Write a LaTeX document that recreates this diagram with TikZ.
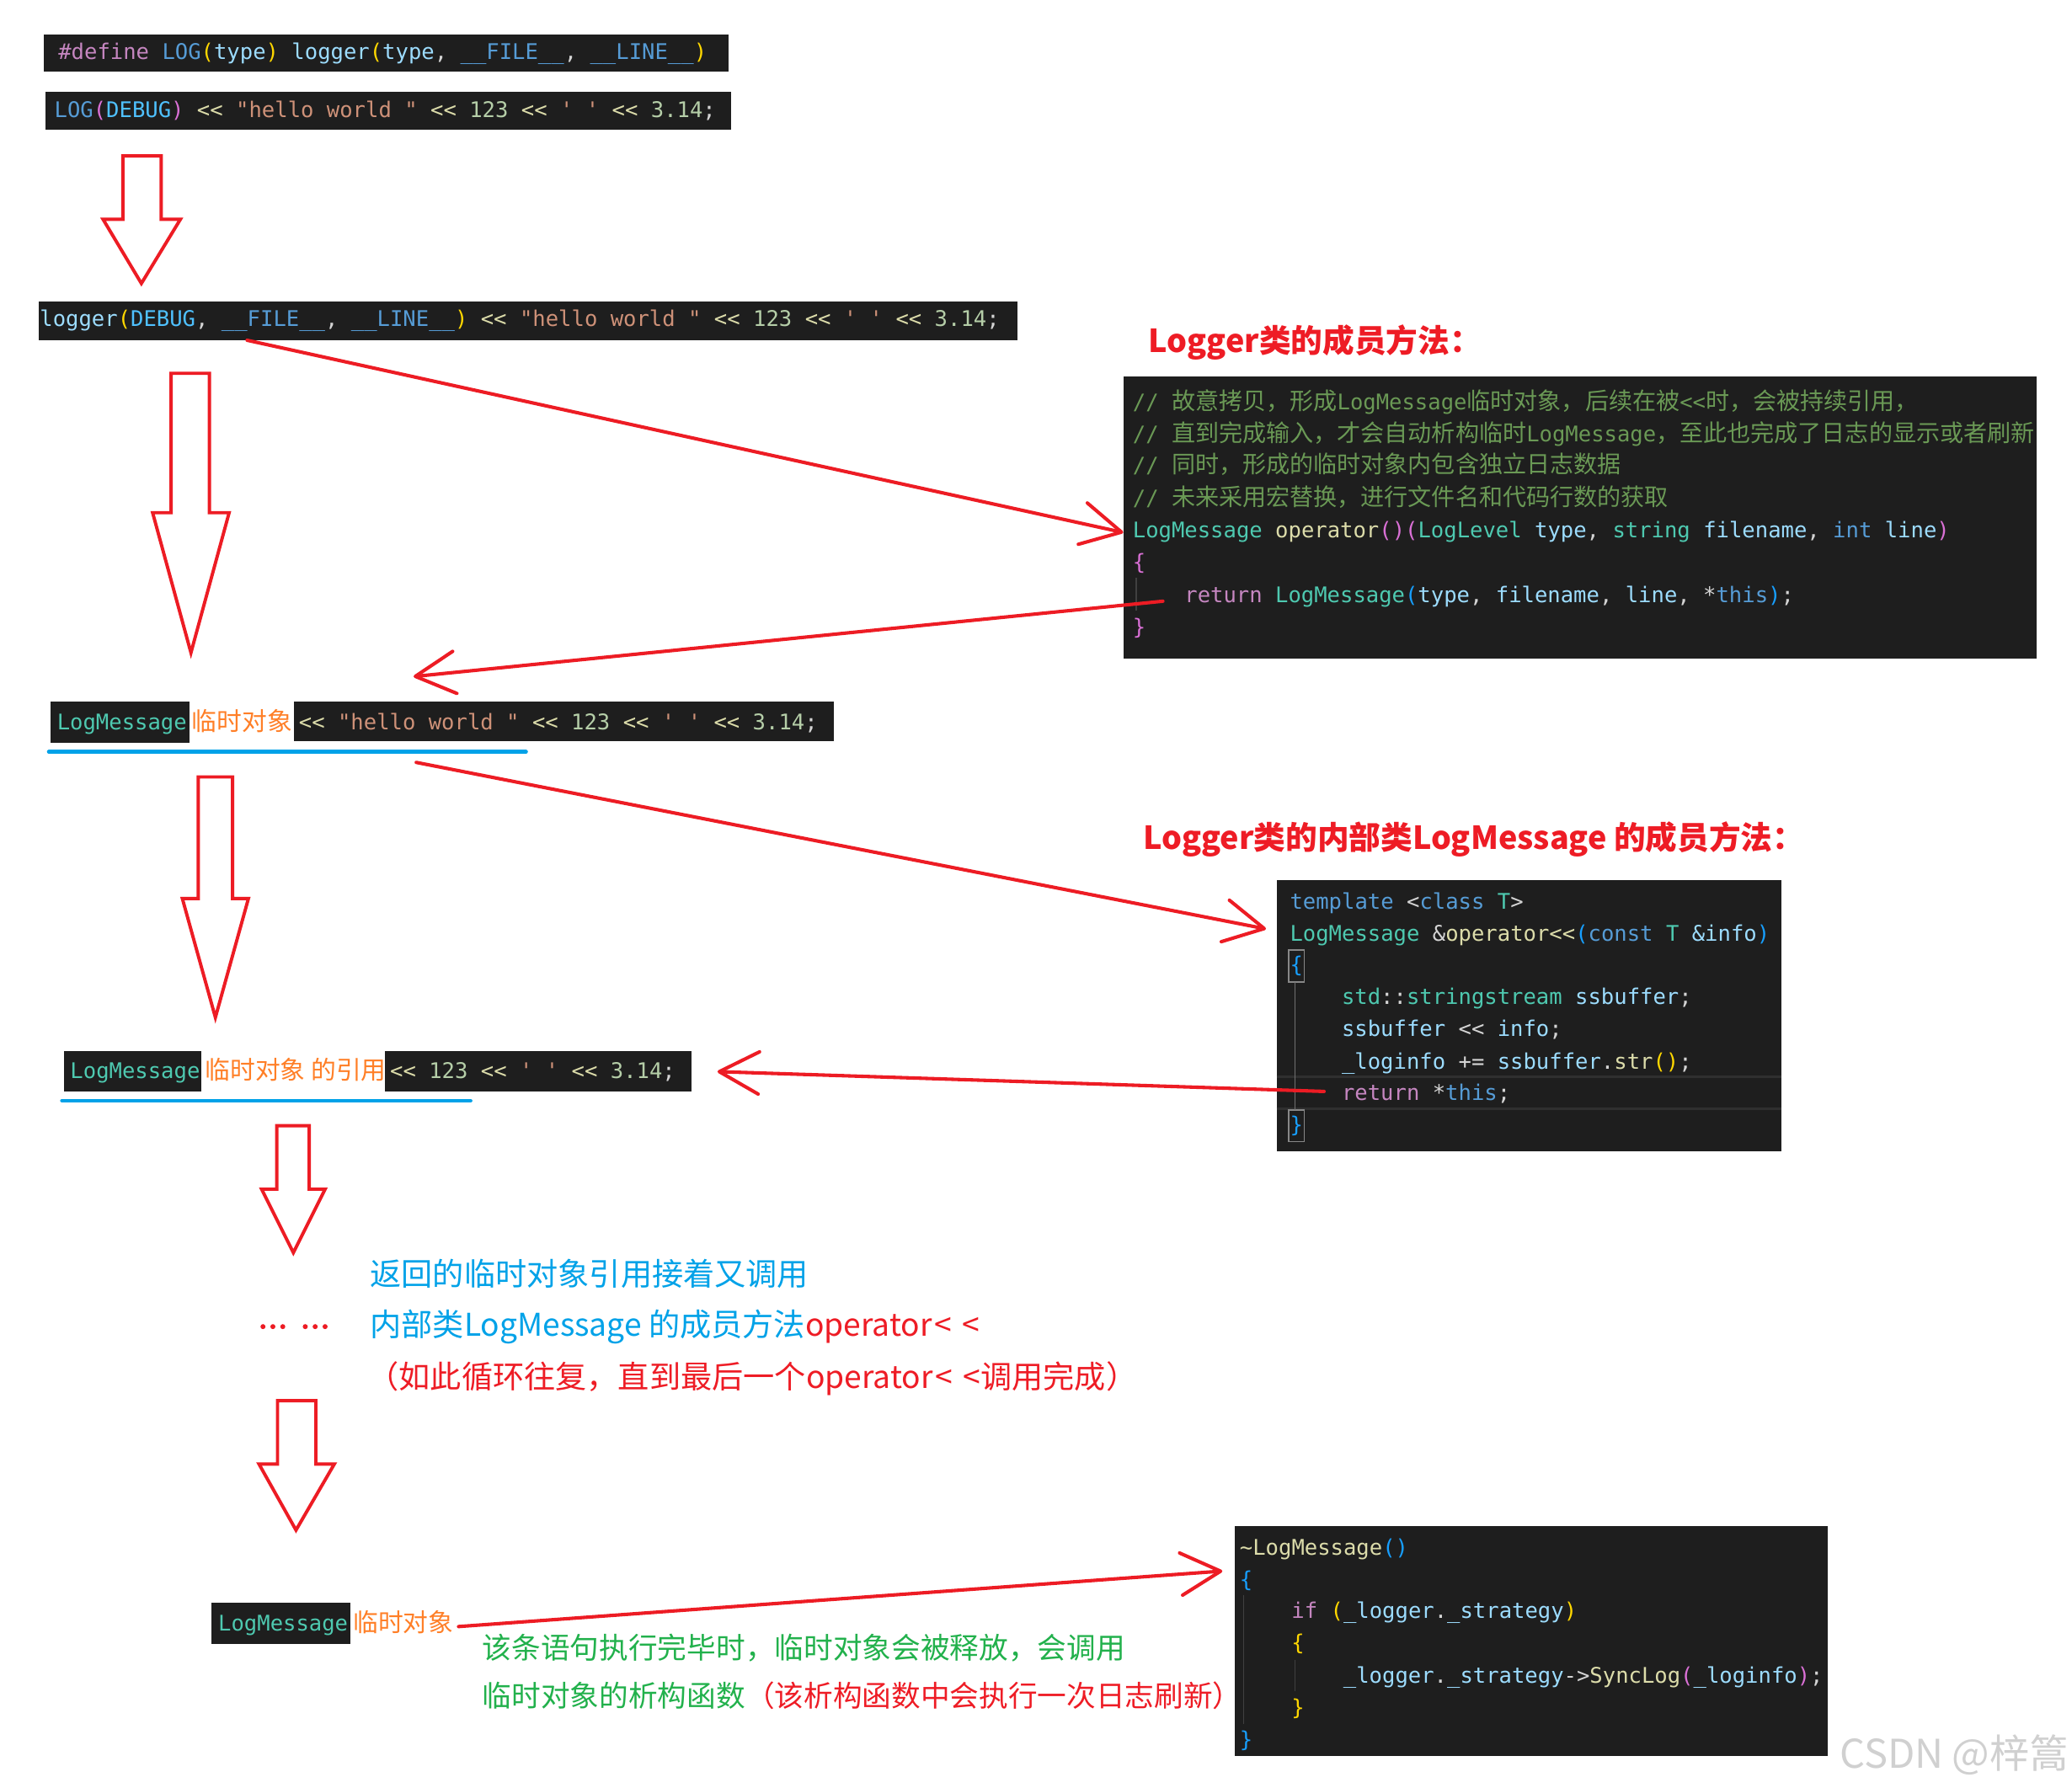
\documentclass[tikz,border=0pt]{standalone}
\usepackage{fontspec}
\setmainfont{DejaVu Sans}
\setmonofont{DejaVu Sans Mono}
\newfontfamily\cjk{Noto Sans CJK SC}
\usetikzlibrary{arrows.meta}

\definecolor{codebg}{HTML}{1E1E1E}
\definecolor{pred}{HTML}{ED1C24}
\definecolor{tred}{HTML}{EE1C25}
\definecolor{tblue}{HTML}{00A2E8}
\definecolor{torange}{HTML}{FF7F27}
\definecolor{tgreen}{HTML}{22B14C}
\definecolor{ckw}{HTML}{569CD6}
\definecolor{cctl}{HTML}{C586C0}
\definecolor{ctype}{HTML}{4EC9B0}
\definecolor{cfn}{HTML}{DCDCAA}
\definecolor{cvar}{HTML}{9CDCFE}
\definecolor{cstr}{HTML}{CE9178}
\definecolor{cnum}{HTML}{B5CEA8}
\definecolor{cop}{HTML}{D4D4D4}
\definecolor{cenum}{HTML}{4FC1FF}
\definecolor{cyel}{HTML}{FFD700}
\definecolor{cpk}{HTML}{DA70D6}
\definecolor{cbl}{HTML}{179FFF}
\definecolor{ccom}{HTML}{6A9955}
\definecolor{cguide}{HTML}{404040}
\definecolor{cguideact}{HTML}{707070}
\definecolor{ccur}{HTML}{2F2F2F}
\definecolor{cbrk}{HTML}{888888}
\definecolor{wmark}{HTML}{D0D0D0}

\newcommand\Ct[2]{\textcolor{#1}{#2}}
\newcommand\codefont{\ttfamily\fontsize{16.3}{24.3}\selectfont}
\newcommand\cmC[1]{{\cjk\fontsize{17.9}{24}\selectfont #1}}
\newcommand\tailA{\Ct{cfn}{<<} \Ct{cstr}{"hello world "} \Ct{cfn}{<<} \Ct{cnum}{123} \Ct{cfn}{<<} \Ct{cstr}{' '} \Ct{cfn}{<<} \Ct{cnum}{3.14}\Ct{cop}{;}}
\newcommand\tailB{\Ct{cfn}{<<} \Ct{cnum}{123} \Ct{cfn}{<<} \Ct{cstr}{' '} \Ct{cfn}{<<} \Ct{cnum}{3.14}\Ct{cop}{;}}

\begin{document}
\begin{tikzpicture}[x=1pt,y=-1pt,
  darkbox/.style={fill=codebg, draw=none, inner sep=0pt, anchor=north west},
  codeline/.style={anchor=base west, inner sep=0pt, font=\codefont, text=cop},
  blockarr/.style={draw=pred, line width=2.5pt, line join=miter},
  redarr/.style={draw=pred, line width=2.6pt, line cap=round, -{Straight Barb[length=30pt,width=32pt,round]}},
  uline/.style={draw=tblue, line width=3pt, line cap=round},
  guide/.style={draw=cguide, line width=1pt},
  actguide/.style={draw=cguideact, line width=1pt},
  curline/.style={draw=ccur, line width=2pt},
  brkbox/.style={draw=cbrk, line width=1.2pt},
  titletext/.style={anchor=base west, inner sep=0pt, font=\cjk\bfseries\fontsize{24}{28}\selectfont, text=tred},
  bluetext/.style={anchor=base west, inner sep=0pt, font=\cjk\fontsize{23.7}{28}\selectfont, text=tblue},
  greentext/.style={anchor=base west, inner sep=0pt, font=\cjk\fontsize{22.1}{26}\selectfont, text=tgreen},
  orangetext/.style={anchor=base west, inner sep=0pt, font=\cjk\fontsize{19}{22}\selectfont, text=torange}
]
\fill[white] (0,0) rectangle (1568,1353);
\useasboundingbox (0,0) rectangle (1568,1353);

% ---------- hollow block arrows ----------
\draw[blockarr] (93,118) -- (122,118) -- (122,166) -- (136.5,166) -- (107,214.5) -- (78,166) -- (93,166) -- cycle;
\draw[blockarr] (129.5,282.5) -- (158.5,282.5) -- (158.5,388) -- (173.4,388) -- (144.5,494) -- (115.5,388) -- (129.5,388) -- cycle;
\draw[blockarr] (150,588) -- (176,588) -- (176,680) -- (188,680) -- (163,770) -- (138,680) -- (150,680) -- cycle;
\draw[blockarr] (209.5,852) -- (234,852) -- (234,900) -- (246,900) -- (222,948) -- (198,900) -- (209.5,900) -- cycle;
\draw[blockarr] (210,1060) -- (239,1060) -- (239,1108) -- (253,1108) -- (224,1158) -- (196,1108) -- (210,1108) -- cycle;

% ---------- single-line code boxes ----------
\node[darkbox, minimum width=518pt, minimum height=28pt] (b1) at (33,26) {};
\node[codeline] (t1) at (44,45) {\Ct{cctl}{\#define} \Ct{ckw}{LOG}\Ct{cyel}{(}\Ct{cvar}{type}\Ct{cyel}{)} \Ct{cvar}{logger}\Ct{cyel}{(}\Ct{cvar}{type}\Ct{cop}{,} \Ct{ckw}{\_\_FILE\_\_}\Ct{cop}{,} \Ct{ckw}{\_\_LINE\_\_}\Ct{cyel}{)}};

\node[darkbox, minimum width=519pt, minimum height=29pt] (b2) at (34,69) {};
\node[codeline] (t2) at (41,89) {\Ct{ckw}{LOG}\Ct{cpk}{(}\Ct{cenum}{DEBUG}\Ct{cpk}{)} \tailA};

\node[darkbox, minimum width=741pt, minimum height=29pt] (b3) at (29,228) {};
\node[codeline] (t3) at (30,247) {\Ct{cvar}{logger}\Ct{cyel}{(}\Ct{cenum}{DEBUG}\Ct{cop}{,} \Ct{ckw}{\_\_FILE\_\_}\Ct{cop}{,} \Ct{ckw}{\_\_LINE\_\_}\Ct{cyel}{)} \tailA};

% LogMessage temporary object line
\node[darkbox, minimum width=105pt, minimum height=31pt] (b4a) at (38,531) {};
\node[codeline] (t4a) at (43,552) {\Ct{ctype}{LogMessage}};
\node[orangetext] (o1) at (145,553) {临时对象};
\node[darkbox, minimum width=409pt, minimum height=30pt] (b4b) at (222,531) {};
\node[codeline] (t4b) at (226,552) {\tailA};
\draw[uline] (37,569) -- (398,569);

% reference line
\node[darkbox, minimum width=104pt, minimum height=31pt] (b5a) at (48,795) {};
\node[codeline] (t5a) at (53,816) {\Ct{ctype}{LogMessage}};
\node[orangetext] (o2) at (155,817) {临时对象 的引用};
\node[darkbox, minimum width=232pt, minimum height=31pt] (b5b) at (291,795) {};
\node[codeline] (t5b) at (295,816) {\tailB};
\draw[uline] (47,833) -- (356,833);

% final temporary object
\node[darkbox, minimum width=105pt, minimum height=31pt] (b6) at (160,1213) {};
\node[codeline] (t6) at (165,1234) {\Ct{ctype}{LogMessage}};
\node[orangetext] (o3) at (267,1235) {临时对象};

% ---------- titles ----------
\node[titletext] (title1) at (869,267) {Logger类的成员方法：};
\node[titletext] (title2) at (865,643) {Logger类的内部类LogMessage 的成员方法：};

% ---------- code box 1 ----------
\node[darkbox, minimum width=691pt, minimum height=213pt] (cb1) at (850,285) {};
\draw[guide] (860,437) -- (860,462);
\node[codeline, text=ccom] (c1l1) at (857,310) {// \cmC{故意拷贝，形成}LogMessage\cmC{临时对象，后续在被}<<\cmC{时，会被持续引用，}};
\node[codeline, text=ccom] (c1l2) at (857,334) {// \cmC{直到完成输入，才会自动析构临时}LogMessage\cmC{，至此也完成了日志的显示或者刷新}};
\node[codeline, text=ccom] (c1l3) at (857,358) {// \cmC{同时，形成的临时对象内包含独立日志数据}};
\node[codeline, text=ccom] (c1l4) at (857,383) {// \cmC{未来采用宏替换，进行文件名和代码行数的获取}};
\node[codeline] (c1l5) at (857,407) {\Ct{ctype}{LogMessage} \Ct{cfn}{operator}\Ct{cpk}{()(}\Ct{ctype}{LogLevel} \Ct{cvar}{type}\Ct{cop}{,} \Ct{ctype}{string} \Ct{cvar}{filename}\Ct{cop}{,} \Ct{ckw}{int} \Ct{cvar}{line}\Ct{cpk}{)}};
\node[codeline] (c1l6) at (857,431) {\Ct{cpk}{\{}};
\node[codeline] (c1l7) at (896.2,456) {\Ct{cctl}{return} \Ct{ctype}{LogMessage}\Ct{cbl}{(}\Ct{cvar}{type}\Ct{cop}{,} \Ct{cvar}{filename}\Ct{cop}{,} \Ct{cvar}{line}\Ct{cop}{,} \Ct{cop}{*}\Ct{ckw}{this}\Ct{cbl}{)}\Ct{cop}{;}};
\node[codeline] (c1l8) at (857,480) {\Ct{cpk}{\}}};

% ---------- code box 2 ----------
\node[darkbox, minimum width=382pt, minimum height=205pt] (cb2) at (966,666) {};
\draw[curline] (966,815) -- (1348,815);
\draw[curline] (966,839) -- (1348,839);
\draw[brkbox] (975,719) rectangle (987,743);
\draw[brkbox] (975,840) rectangle (987,864);
\draw[actguide] (980,743) -- (980,840);
\node[codeline] (c2l1) at (976,688) {\Ct{ckw}{template} \Ct{cop}{<}\Ct{ckw}{class} \Ct{ctype}{T}\Ct{cop}{>}};
\node[codeline] (c2l2) at (976,712) {\Ct{ctype}{LogMessage} \Ct{cop}{\&}\Ct{cfn}{operator<<}\Ct{cbl}{(}\Ct{ckw}{const} \Ct{ctype}{T} \Ct{cvar}{\&info}\Ct{cbl}{)}};
\node[codeline] (c2l3) at (976,736) {\Ct{cbl}{\{}};
\node[codeline] (c2l4) at (1015.2,760) {\Ct{ctype}{std}\Ct{cop}{::}\Ct{ctype}{stringstream} \Ct{cvar}{ssbuffer}\Ct{cop}{;}};
\node[codeline] (c2l5) at (1015.2,784) {\Ct{cvar}{ssbuffer} \Ct{cop}{<<} \Ct{cvar}{info}\Ct{cop}{;}};
\node[codeline] (c2l6) at (1015.2,809) {\Ct{cvar}{\_loginfo} \Ct{cop}{+=} \Ct{cvar}{ssbuffer}\Ct{cop}{.}\Ct{cfn}{str}\Ct{cyel}{()}\Ct{cop}{;}};
\node[codeline] (c2l7) at (1015.2,833) {\Ct{cctl}{return} \Ct{cop}{*}\Ct{ckw}{this}\Ct{cop}{;}};
\node[codeline] (c2l8) at (976,857) {\Ct{cbl}{\}}};

% ---------- code box 3 ----------
\node[darkbox, minimum width=449pt, minimum height=174pt] (cb3) at (934,1155) {};
\draw[guide] (941,1207) -- (941,1305);
\draw[guide] (980,1256) -- (980,1280);
\node[codeline] (c3l1) at (938,1177) {\Ct{cfn}{\textasciitilde LogMessage}\Ct{cbl}{()}};
\node[codeline] (c3l2) at (938,1201) {\Ct{cbl}{\{}};
\node[codeline] (c3l3) at (977.2,1225) {\Ct{cctl}{if} \Ct{cyel}{(}\Ct{cvar}{\_logger}\Ct{cop}{.}\Ct{cvar}{\_strategy}\Ct{cyel}{)}};
\node[codeline] (c3l4) at (977.2,1249) {\Ct{cyel}{\{}};
\node[codeline] (c3l5) at (1016.4,1274) {\Ct{cvar}{\_logger}\Ct{cop}{.}\Ct{cvar}{\_strategy}\Ct{cop}{->}\Ct{cfn}{SyncLog}\Ct{cpk}{(}\Ct{cvar}{\_loginfo}\Ct{cpk}{)}\Ct{cop}{;}};
\node[codeline] (c3l6) at (977.2,1298) {\Ct{cyel}{\}}};
\node[codeline] (c3l7) at (938,1322) {\Ct{cbl}{\}}};

% ---------- explanation texts ----------
\foreach \dx in {199,206.5,214,231,238.5,246} \fill[pred] (\dx,1004) circle (1.9);
\node[bluetext] (e1) at (280,973) {返回的临时对象引用接着又调用};
\node[bluetext] (e2) at (280,1011) {内部类LogMessage 的成员方法\textcolor{tred}{operator\kern2pt<\kern8pt<}};
\node[bluetext, text=tred] (e3) at (278,1051) {（如此循环往复，直到最后一个operator\kern2pt<\kern8pt<调用完成）};
\node[greentext] (g1) at (365,1255.5) {该条语句执行完毕时，临时对象会被释放，会调用};
\node[greentext] (g2) at (365,1291.5) {临时对象的析构函数\textcolor{tred}{（该析构函数中会执行一次日志刷新）}};
\node[anchor=base west, inner sep=0pt, font=\cjk\fontsize{30}{32}\selectfont, text=wmark] (wm) at (1392,1338) {CSDN @梓篙};

% ---------- red connectors ----------
\coordinate (a1s) at (187,257.5);
\coordinate (a1e) at (850,403);
\coordinate (a2s) at (880,455);
\coordinate (a2e) at (313,512);
\coordinate (a3s) at (315,577);
\coordinate (a3e) at (958,703);
\coordinate (a4s) at (1002,826);
\coordinate (a4e) at (543,811);
\coordinate (a5s) at (347,1231);
\coordinate (a5e) at (925,1189);
\draw[redarr] (a1s) -- (a1e);
\draw[redarr] (a2s) -- (a2e);
\draw[redarr] (a3s) -- (a3e);
\draw[redarr] (a4s) -- (a4e);
\draw[redarr] (a5s) -- (a5e);
\end{tikzpicture}
\end{document}
